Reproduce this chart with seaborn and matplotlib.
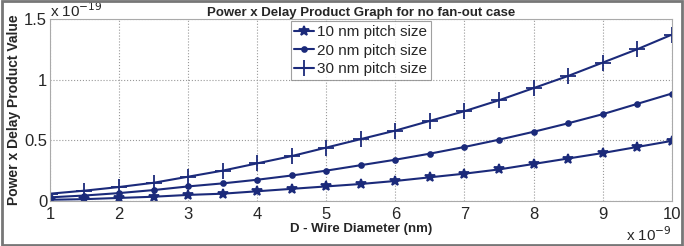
import matplotlib
matplotlib.use("Agg")
import matplotlib.pyplot as plt
import seaborn as sns

# wire diameter in units of 1e-9 m, PDP in units of 1e-19
diameter = [1, 1.5, 2, 2.5, 3, 3.5, 4, 4.5, 5, 5.5, 6, 6.5, 7, 7.5, 8, 8.5, 9, 9.5, 10]
pdp_10nm = [0.01, 0.015, 0.025, 0.035, 0.05, 0.06, 0.08, 0.10, 0.12, 0.14, 0.165,
            0.195, 0.225, 0.26, 0.305, 0.35, 0.395, 0.445, 0.495]
pdp_20nm = [0.03, 0.045, 0.065, 0.09, 0.12, 0.145, 0.175, 0.21, 0.25, 0.295, 0.34,
            0.39, 0.445, 0.505, 0.57, 0.64, 0.715, 0.80, 0.885]
pdp_30nm = [0.06, 0.085, 0.115, 0.15, 0.20, 0.25, 0.31, 0.37, 0.44, 0.51, 0.58,
            0.66, 0.74, 0.83, 0.93, 1.03, 1.14, 1.25, 1.37]
labels = ["10 nm pitch size", "20 nm pitch size", "30 nm pitch size"]

sns.set_style("white")
plt.rcParams['font.family'] = ['Liberation Sans', 'DejaVu Sans']

color = "#1b2a7a"
fig = plt.figure(figsize=(6.84, 2.46), dpi=100)
ax = fig.add_axes([0.073, 0.183, 0.909, 0.74])

series = [pdp_10nm, pdp_20nm, pdp_30nm]
markers = ["*", "o", "+"]
sizes = [7.5, 3.5, 11]
for vals, lab, m, ms in zip(series, labels, markers, sizes):
    sns.lineplot(x=diameter, y=vals, label=lab, color=color, marker=m,
                 markersize=ms, markeredgecolor=color, markeredgewidth=1.3,
                 linewidth=1.5, ax=ax)

ax.set_xlim(1, 10)
ax.set_ylim(0, 1.5)
ax.set_xticks(range(1, 11))
ax.set_yticks([0, 0.5, 1, 1.5])
ax.set_yticklabels(["0", "0.5", "1", "1.5"])
ax.grid(True, linestyle=":", color="#999999", linewidth=0.8)
ax.tick_params(labelsize=12, length=0)
ax.tick_params(axis="x", pad=4)
ax.tick_params(axis="y", pad=2)
for s in ax.spines.values():
    s.set_color("#aaaaaa")
    s.set_linewidth(0.8)

ax.set_xlabel("D - Wire Diameter (nm)", fontsize=9.5, fontweight="bold", labelpad=1)
ax.set_ylabel("Power x Delay Product Value", fontsize=10, fontweight="bold", labelpad=2)
ax.set_title("Power x Delay Product Graph for no fan-out case", fontsize=9.5,
             fontweight="bold", pad=2)

ax.text(0.0, 0.995, r"x 10$^{-19}$", transform=ax.transAxes, fontsize=11,
        ha="left", va="bottom")
ax.text(1.0, -0.135, r"x 10$^{-9}$", transform=ax.transAxes, fontsize=11,
        ha="right", va="top")

leg = ax.legend(loc="upper center", bbox_to_anchor=(0.5, 1.0), fontsize=11,
                frameon=True, fancybox=False, borderpad=0.25, labelspacing=0.3,
                handlelength=1.3, handletextpad=0.2, borderaxespad=0.15)
leg.get_frame().set_edgecolor("#888888")
leg.get_frame().set_linewidth(0.8)

fig.patches.append(plt.Rectangle((0.003, 0.005), 0.994, 0.99, transform=fig.transFigure,
                                 fill=False, edgecolor="#777777", linewidth=2))

fig.savefig("out.png", dpi=100)
